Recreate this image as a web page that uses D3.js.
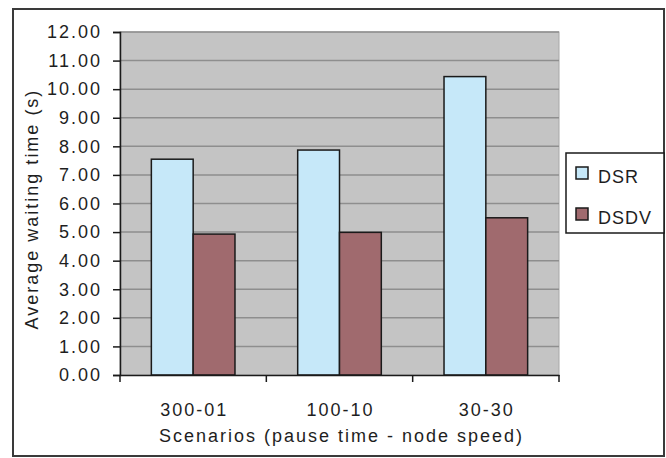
<!DOCTYPE html>
<html>
<head>
<meta charset="utf-8">
<script src="https://cdn.jsdelivr.net/npm/d3@7"></script>
<style>
	body { margin: 0; background: #fff; }
	svg text { font-family: "Liberation Sans", Arial, sans-serif; fill: #1e1e1e; }
</style>
</head>
<body>
<div class="chart"></div>
<script>
var categories = ["300-01", "100-10", "30-30"];
var seriesNames = ["DSR", "DSDV"];
var dsrValues = [7.55, 7.87, 10.44];
var dsdvValues = [4.93, 4.99, 5.50];
var yTicks = [0, 1, 2, 3, 4, 5, 6, 7, 8, 9, 10, 11, 12];

var width = 666,
	height = 458,
	plotLeft = 120,
	plotRight = 559,
	plotTop = 32,
	plotBottom = 375,
	colors = { "DSR": "#c6e8f9", "DSDV": "#a06a6e" };

var svg = d3.select("div.chart")
			.append("svg")
			.attr("width", width)
			.attr("height", height);

// outer chart border
svg.append("rect")
	.attr("x", 13).attr("y", 9)
	.attr("width", 651).attr("height", 447)
	.attr("fill", "#fff")
	.attr("stroke", "#3a3a3a")
	.attr("stroke-width", 2);

var x0 = d3.scaleBand()
		.domain(categories)
		.range([plotLeft, plotRight]);

var groupWidth = x0.bandwidth() * 2 / 3.5;

var x1 = d3.scaleBand()
		.domain(seriesNames)
		.range([(x0.bandwidth() - groupWidth) / 2, (x0.bandwidth() + groupWidth) / 2]);

var y = d3.scaleLinear()
		.domain([0, 12])
		.range([plotBottom, plotTop]);

// plot area
svg.append("rect")
	.attr("x", plotLeft).attr("y", plotTop)
	.attr("width", plotRight - plotLeft).attr("height", plotBottom - plotTop)
	.attr("fill", "#c4c4c4")
	.attr("stroke", "#a8a8a8")
	.attr("stroke-width", 1);

svg.append("g")
	.selectAll("line")
	.data(yTicks.slice(1))
	.enter()
	.append("line")
	.attr("x1", plotLeft).attr("x2", plotRight)
	.attr("y1", function(d){ return y(d); })
	.attr("y2", function(d){ return y(d); })
	.attr("stroke", "#8e8e8e")
	.attr("stroke-width", 1.5);

/*
========== bars ==========
*/
var rows = categories.map(function(c, i){
	return { cat: c, values: [
		{ name: "DSR", value: dsrValues[i] },
		{ name: "DSDV", value: dsdvValues[i] }
	]};
});

svg.append("g")
	.selectAll("g")
	.data(rows)
	.enter()
	.append("g")
	.attr("transform", function(d){ return "translate(" + x0(d.cat) + ",0)"; })
	.selectAll("rect")
	.data(function(d){ return d.values; })
	.enter()
	.append("rect")
	.attr("x", function(d){ return x1(d.name); })
	.attr("y", function(d){ return y(d.value); })
	.attr("width", x1.bandwidth())
	.attr("height", function(d){ return plotBottom - y(d.value); })
	.attr("fill", function(d){ return colors[d.name]; })
	.attr("stroke", "#1a1a1a")
	.attr("stroke-width", 1.5);

/*
========== axes ==========
*/
var yAxis = svg.append("g")
	.attr("transform", "translate(" + plotLeft + ",0)")
	.call(d3.axisLeft(y).tickValues(yTicks).tickFormat(d3.format(".2f")).tickSize(7).tickPadding(11));

var xAxis = svg.append("g")
	.attr("transform", "translate(0," + plotBottom + ")")
	.call(d3.axisBottom(x0).tickSize(0).tickPadding(28));

svg.append("g")
	.selectAll("line")
	.data([plotLeft].concat(categories.map(function(c){ return x0(c) + x0.bandwidth(); })))
	.enter()
	.append("line")
	.attr("x1", function(d){ return d; }).attr("x2", function(d){ return d; })
	.attr("y1", plotBottom).attr("y2", plotBottom + 7)
	.attr("stroke", "#1a1a1a")
	.attr("stroke-width", 1.5);

[yAxis, xAxis].forEach(function(a){
	a.select(".domain").attr("stroke", "#1a1a1a").attr("stroke-width", 1.5);
	a.selectAll(".tick line").attr("stroke", "#1a1a1a").attr("stroke-width", 1.5);
	a.selectAll(".tick text")
		.style("font-size", "18px")
		.style("letter-spacing", "2px")
		.attr("fill", "#1e1e1e");
});
xAxis.selectAll(".tick text").attr("dy", "0.71em").attr("dx", "1px");

svg.append("text")
	.attr("transform", "translate(38,209) rotate(-90)")
	.attr("text-anchor", "middle")
	.style("font-size", "18px")
	.style("letter-spacing", "2px")
	.text("Average waiting time (s)");

svg.append("text")
	.attr("x", (plotLeft + plotRight) / 2 + 2)
	.attr("y", 442)
	.attr("text-anchor", "middle")
	.style("font-size", "18px")
	.style("letter-spacing", "2px")
	.text("Scenarios (pause time - node speed)");

/*
========== legend ==========
*/
var legend = svg.append("g").attr("transform", "translate(566,153)");

legend.append("rect")
	.attr("width", 98).attr("height", 80)
	.attr("fill", "#fff")
	.attr("stroke", "#1a1a1a")
	.attr("stroke-width", 1.5);

var item = legend.selectAll("g.item")
	.data(seriesNames)
	.enter()
	.append("g")
	.attr("class", "item")
	.attr("transform", function(d, i){ return "translate(0," + (i * 41) + ")"; });

item.append("rect")
	.attr("x", 10).attr("y", 14)
	.attr("width", 12).attr("height", 12)
	.attr("fill", function(d){ return colors[d]; })
	.attr("stroke", "#1a1a1a")
	.attr("stroke-width", 1.5);

item.append("text")
	.attr("x", 32).attr("y", 30)
	.style("font-size", "18px")
	.style("letter-spacing", "1px")
	.text(function(d){ return d; });
</script>
</body>
</html>
